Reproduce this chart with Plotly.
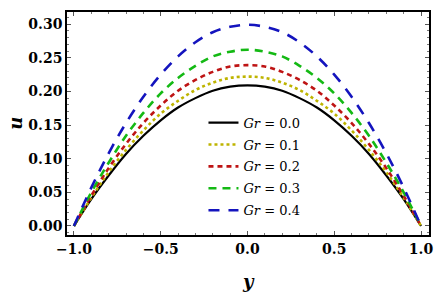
import plotly.graph_objects as go

y_vals = [-1.0, -0.9, -0.8, -0.7, -0.6, -0.5, -0.4, -0.3, -0.2, -0.1, 0.0,
          0.1, 0.2, 0.3, 0.4, 0.5, 0.6, 0.7, 0.8, 0.9, 1.0]

u_gr00 = [0.0, 0.040, 0.075, 0.107, 0.134, 0.157, 0.176, 0.190, 0.201, 0.207, 0.209,
          0.207, 0.201, 0.190, 0.176, 0.157, 0.134, 0.107, 0.075, 0.040, 0.0]
u_gr01 = [0.0, 0.042, 0.080, 0.113, 0.142, 0.167, 0.186, 0.202, 0.213, 0.220, 0.222,
          0.220, 0.213, 0.202, 0.186, 0.167, 0.142, 0.113, 0.080, 0.042, 0.0]
u_gr02 = [0.0, 0.045, 0.086, 0.122, 0.153, 0.179, 0.201, 0.217, 0.229, 0.237, 0.239,
          0.237, 0.229, 0.217, 0.201, 0.179, 0.153, 0.122, 0.086, 0.045, 0.0]
u_gr03 = [0.0, 0.050, 0.094, 0.134, 0.168, 0.197, 0.220, 0.238, 0.252, 0.259, 0.262,
          0.259, 0.252, 0.238, 0.220, 0.197, 0.168, 0.134, 0.094, 0.050, 0.0]
u_gr04 = [0.0, 0.057, 0.108, 0.153, 0.192, 0.225, 0.252, 0.273, 0.288, 0.296, 0.299,
          0.296, 0.288, 0.273, 0.252, 0.225, 0.192, 0.153, 0.108, 0.057, 0.0]

labels = ["0.0", "0.1", "0.2", "0.3", "0.4"]
series = [u_gr00, u_gr01, u_gr02, u_gr03, u_gr04]
colors = ["black", "rgb(190,180,0)", "rgb(190,20,20)", "rgb(20,185,20)", "rgb(20,20,190)"]
dashes = ["solid", "dot", "5px,4px", "8px,6px", "11px,9px"]
widths = [2.2, 2.6, 2.6, 2.6, 2.6]

fig = go.Figure()
for i, (lab, vals, c, d, w) in enumerate(zip(labels, series, colors, dashes, widths)):
    fig.add_trace(go.Scatter(
        x=y_vals, y=vals, mode="lines",
        line=dict(color=c, dash=d, width=w, shape="spline", smoothing=1.0),
        name="<i>Gr</i> = " + lab, legendgroup="g%d" % i,
    ))

tick_family = "DejaVu Serif"
axis_common = dict(
    showline=True, linecolor="black", linewidth=1.5, mirror="allticks",
    ticks="inside", ticklen=4, tickcolor="#555", tickwidth=1,
    showgrid=False, zeroline=False, automargin=False,
    tickfont=dict(family=tick_family, size=14, color="black", weight="bold"),
)

fig.update_layout(
    width=439, height=303,
    margin=dict(l=67, r=10, t=12, b=68),
    paper_bgcolor="white", plot_bgcolor="white",
    xaxis=dict(range=[-1.04, 1.046], tickvals=[-1.0, -0.5, 0.0, 0.5, 1.0],
               ticktext=["\u22121.0", "\u22120.5", "0.0", "0.5", "1.0"],
               minor=dict(ticks="inside", ticklen=2, tickcolor="#777", dtick=0.1),
               **axis_common),
    yaxis=dict(range=[-0.0134, 0.318], tickvals=[0.0, 0.05, 0.10, 0.15, 0.20, 0.25, 0.30],
               ticktext=["0.00", "0.05", "0.10", "0.15", "0.20", "0.25", "0.30"],
               minor=dict(ticks="inside", ticklen=2, tickcolor="#777", dtick=0.01),
               **axis_common),
    legend=dict(x=0.377, y=0.571, xanchor="left", yanchor="top",
                bgcolor="rgba(0,0,0,0)",
                font=dict(family=tick_family, size=13, color="black"),
                itemwidth=30, tracegroupgap=2),
    showlegend=True,
    annotations=[
        dict(text="<i>y</i>", xref="paper", yref="paper", x=0.5, y=-0.21,
             xanchor="center", yanchor="middle", showarrow=False,
             font=dict(family=tick_family, size=18, color="black", weight="bold")),
        dict(text="<i>u</i>", xref="paper", yref="paper", x=-0.143, y=0.5,
             xanchor="center", yanchor="middle", showarrow=False, textangle=-90,
             font=dict(family=tick_family, size=18, color="black", weight="bold")),
    ],
)

fig.write_html("out.html", config={"displayModeBar": False},
               post_script="document.body.style.margin='0px';document.body.style.overflow='hidden';")
